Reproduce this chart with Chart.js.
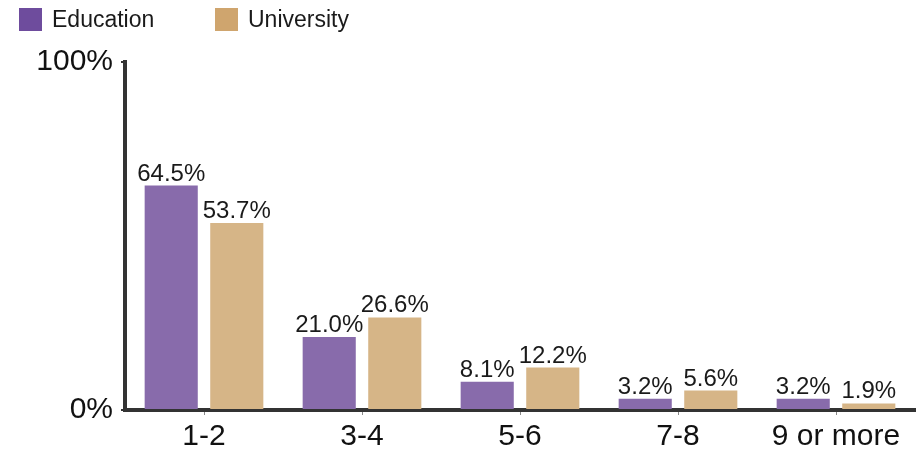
<!DOCTYPE html>
<html>
<head>
<meta charset="utf-8">
<script src="https://cdn.jsdelivr.net/npm/chart.js@4"></script>
<style>
html,body{margin:0;padding:0;background:#fff;}
#wrap{width:918px;height:451px;position:relative;}
</style>
</head>
<body>
<div id="wrap"><canvas id="c" width="918" height="451"></canvas></div>
<script>
const categories = ['1-2', '3-4', '5-6', '7-8', '9 or more'];
const seriesNames = ['Education', 'University'];
const educationValues = [64.5, 21.0, 8.1, 3.2, 3.2];
const universityValues = [53.7, 26.6, 12.2, 5.6, 1.9];
const yTickValues = [0, 100];

const barColors = ['#886bab', '#d6b587'];
const legendColors = ['#6e4c9d', '#cfa56e'];
const FONT = '"Liberation Sans", Arial, sans-serif';

const dataLabels = {
  id: 'dataLabels',
  afterDatasetsDraw(chart) {
    const ctx = chart.ctx;
    ctx.save();
    ctx.font = '24px ' + FONT;
    ctx.fillStyle = '#1a1a1a';
    ctx.textAlign = 'center';
    ctx.textBaseline = 'alphabetic';
    chart.data.datasets.forEach((ds, i) => {
      const meta = chart.getDatasetMeta(i);
      meta.data.forEach((el, j) => {
        ctx.fillText(ds.data[j].toFixed(1) + '%', el.x, el.y - 5);
      });
    });
    ctx.restore();
  }
};

const customLegend = {
  id: 'customLegend',
  afterDraw(chart) {
    const ctx = chart.ctx;
    const xs = [19, 215];
    ctx.save();
    ctx.font = '23px ' + FONT;
    ctx.textBaseline = 'middle';
    ctx.textAlign = 'left';
    chart.data.datasets.forEach((ds, i) => {
      ctx.fillStyle = legendColors[i];
      ctx.fillRect(xs[i], 8, 23, 23);
      ctx.fillStyle = '#1a1a1a';
      ctx.fillText(ds.label, xs[i] + 33, 21);
    });
    ctx.restore();
  }
};

new Chart(document.getElementById('c'), {
  type: 'bar',
  data: {
    labels: categories,
    datasets: [
      { label: seriesNames[0], data: educationValues, backgroundColor: barColors[0],
        categoryPercentage: 0.83, barPercentage: 0.81 },
      { label: seriesNames[1], data: universityValues, backgroundColor: barColors[1],
        categoryPercentage: 0.83, barPercentage: 0.81 }
    ]
  },
  options: {
    responsive: false,
    animation: false,
    layout: { padding: { top: 62, left: 0, right: 3, bottom: 0 } },
    plugins: {
      legend: { display: false },
      tooltip: { enabled: false }
    },
    scales: {
      x: {
        grid: { offset: false, drawOnChartArea: false, drawTicks: true, tickLength: 5, color: '#888', lineWidth: 1 },
        border: { display: true, color: '#333', width: 4 },
        ticks: { color: '#111', font: { family: FONT, size: 30 }, padding: 4 },
        afterFit(axis) { axis.height = 41; }
      },
      y: {
        min: 0, max: 100,
        afterBuildTicks(axis) { axis.ticks = yTickValues.map(v => ({ value: v })); },
        afterFit(axis) { axis.width = 125; },
        grid: { drawOnChartArea: false, drawTicks: true, tickLength: 4, color: '#333', lineWidth: 2 },
        border: { display: true, color: '#333', width: 4 },
        ticks: { color: '#111', font: { family: FONT, size: 30 }, padding: 8,
          callback: v => v + '%' }
      }
    }
  },
  plugins: [dataLabels, customLegend]
});
</script>
</body>
</html>
